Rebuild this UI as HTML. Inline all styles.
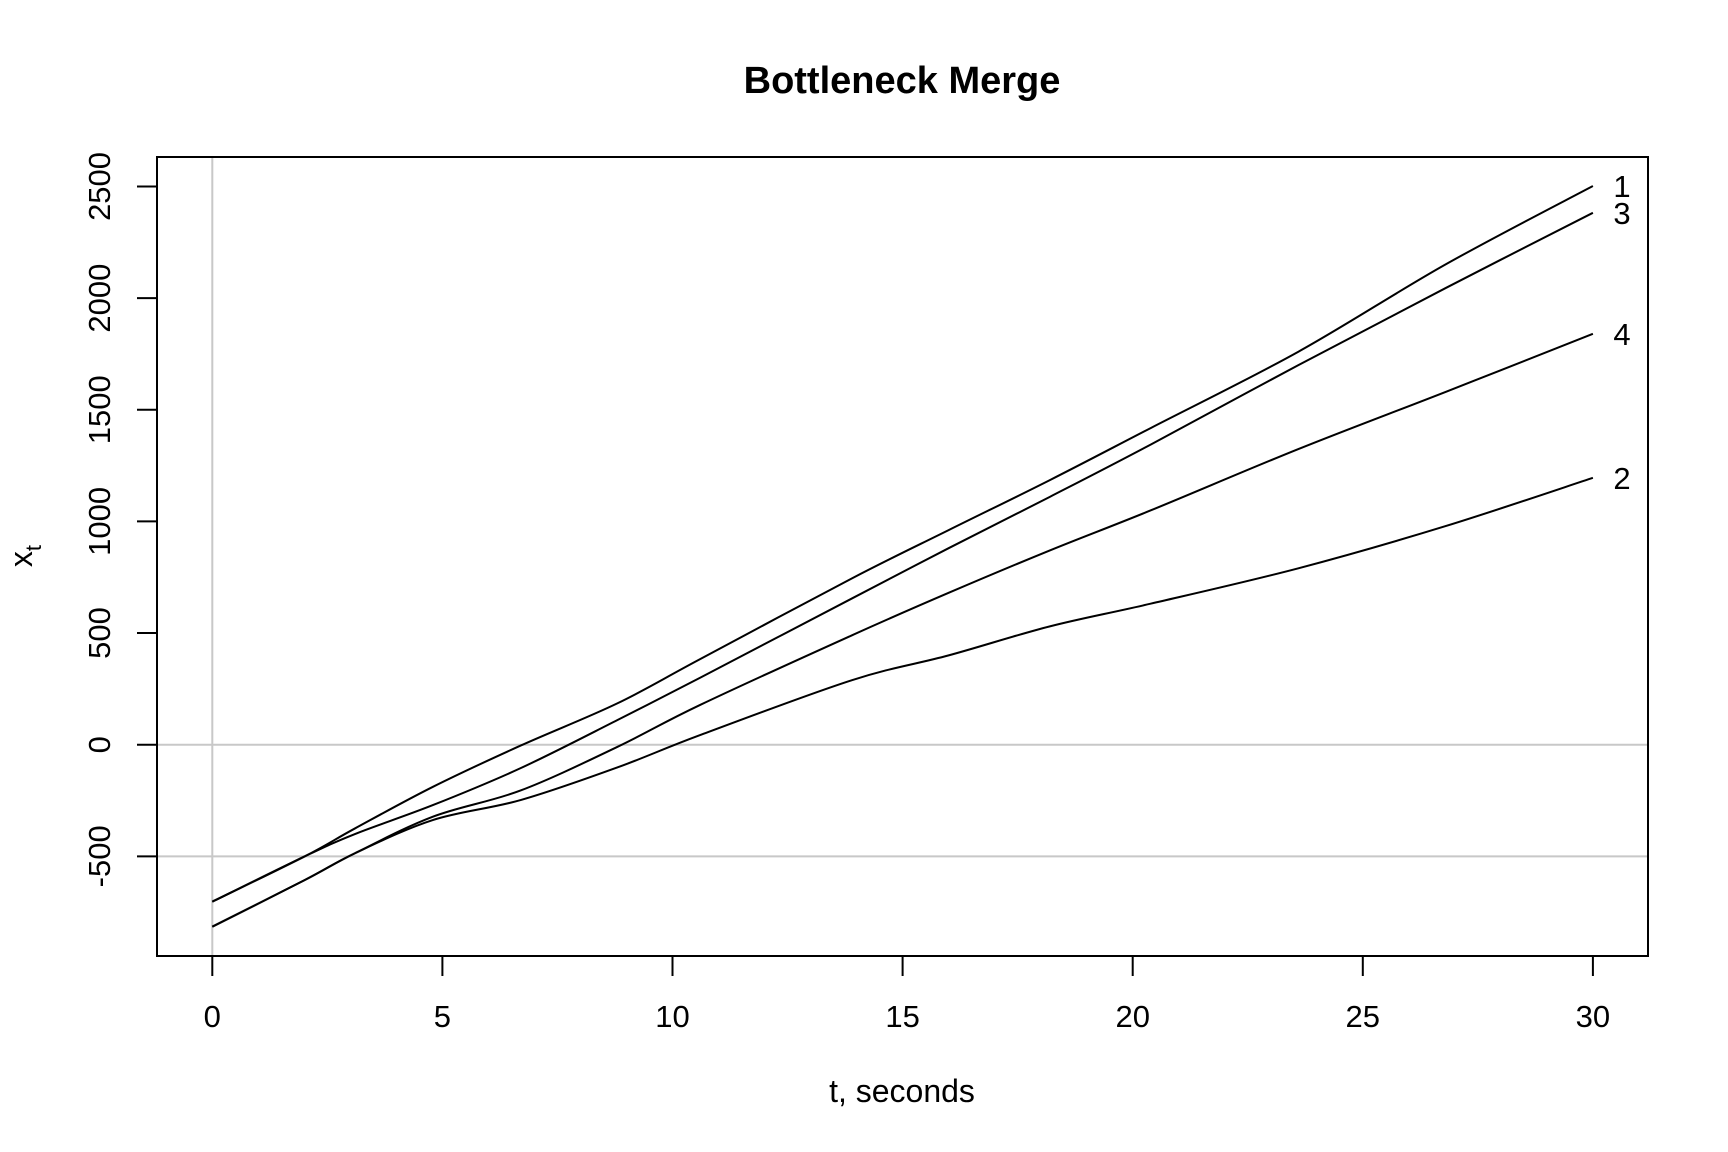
<!DOCTYPE html>
<html><head><meta charset="utf-8"><style>
html,body{margin:0;padding:0;background:#fff;}
svg{display:block;font-family:"Liberation Sans",sans-serif;}
</style></head><body>
<svg id="chart" width="1728" height="1152" viewBox="0 0 1728 1152">
<text x="902" y="93" text-anchor="middle" font-size="38" font-weight="bold">Bottleneck Merge</text>
<g id="grid"></g>
<g id="series"></g>
<g id="axes"></g>
<rect x="157" y="157" width="1491" height="799" fill="none" stroke="#000" stroke-width="2"/>
<text x="902" y="1102" text-anchor="middle" font-size="32">t, seconds</text>
<text transform="translate(32,556) rotate(-90)" text-anchor="middle" font-size="32">x<tspan font-size="22" dy="9">t</tspan></text>
</svg>
<script>
const times = [0, 2, 3.1, 4.8, 6.7, 8.8, 10.6, 13.9, 16, 18.2, 20.4, 23.6, 26.8, 30];
const series1 = [-703, -501, -375, -188, -4, 185, 383, 745, 961, 1185, 1419, 1760, 2151, 2502];
const series2 = [-815, -607, -486, -337, -248, -102, 43, 289, 400, 530, 632, 790, 979, 1195];
const series3 = [-703, -501, -400, -270, -105, 110, 300, 655, 880, 1110, 1345, 1700, 2045, 2382];
const series4 = [-815, -607, -486, -322, -205, -10, 178, 490, 680, 870, 1050, 1324, 1580, 1840];
const seriesLabels = ["1", "2", "3", "4"];
const xTicks = [0, 5, 10, 15, 20, 25, 30];
const yTicks = [-500, 0, 500, 1000, 1500, 2000, 2500];
const NS = "http://www.w3.org/2000/svg";
function xs(t){ return 212.3 + t * 46.02; }
function ys(v){ return 744.7 - v * 0.2233; }
function mk(tag, attrs, parent){
  const e = document.createElementNS(NS, tag);
  for (const k in attrs) e.setAttribute(k, attrs[k]);
  parent.appendChild(e); return e;
}
const grid = document.getElementById('grid');
const axes = document.getElementById('axes');
const sg = document.getElementById('series');
let g1 = mk('line', {x1: xs(0), x2: xs(0), y1: 157, y2: 956, stroke: '#c8c8c8', 'stroke-width': 2}, grid);


[0, -500].forEach(v => {
  const l = mk('line', {x1: 157, x2: 1648, y1: ys(v), y2: ys(v), stroke: '#c8c8c8', 'stroke-width': 2}, grid);
  
  
});
xTicks.forEach(t => {
  const l = mk('line', {x1: xs(t), x2: xs(t), y1: 956, y2: 976, stroke: '#000', 'stroke-width': 2}, axes);
  
  
  const tx = mk('text', {x: xs(t), y: 1027, 'text-anchor': 'middle', 'font-size': 31}, axes);
  tx.textContent = String(t);
  
  
});
yTicks.forEach(v => {
  const l = mk('line', {x1: 137, x2: 157, y1: ys(v), y2: ys(v), stroke: '#000', 'stroke-width': 2}, axes);
  
  
  const tx = mk('text', {transform: 'translate(110,' + ys(v) + ') rotate(-90)', 'text-anchor': 'middle', 'font-size': 31}, axes);
  tx.textContent = String(v);
  
  
});
function pathFor(vals){
  const p = times.map((t, i) => [xs(t), ys(vals[i])]);
  let d = 'M' + p[0][0] + ',' + p[0][1];
  for (let i = 0; i < p.length - 1; i++) {
    const p0 = p[Math.max(0, i - 1)], p1 = p[i], p2 = p[i + 1], p3 = p[Math.min(p.length - 1, i + 2)];
    const c1x = p1[0] + (p2[0] - p0[0]) / 6, c1y = p1[1] + (p2[1] - p0[1]) / 6;
    const c2x = p2[0] - (p3[0] - p1[0]) / 6, c2y = p2[1] - (p3[1] - p1[1]) / 6;
    d += ' C' + c1x + ',' + c1y + ' ' + c2x + ',' + c2y + ' ' + p2[0] + ',' + p2[1];
  }
  return d;
}
const allSeries = [series1, series2, series3, series4];
allSeries.forEach((vals, i) => {
  const path = mk('path', {d: pathFor(vals), fill: 'none', stroke: '#000', 'stroke-width': 2}, sg);
  
  
  const last = vals[vals.length - 1];
  const tx = mk('text', {x: 1622, y: ys(last) + 11, 'text-anchor': 'middle', 'font-size': 31}, sg);
  tx.textContent = seriesLabels[i];
  
  
});
</script>
</body></html>
